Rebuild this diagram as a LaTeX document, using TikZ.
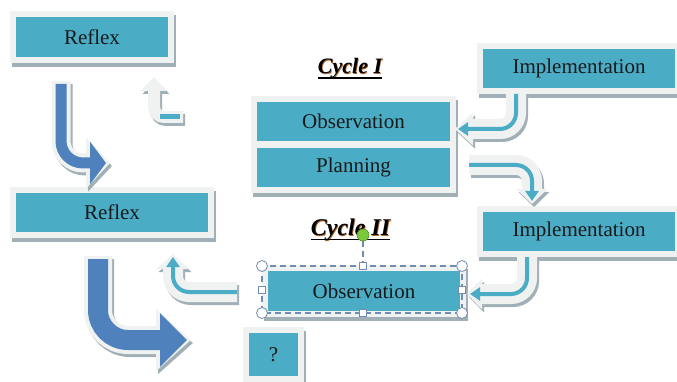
\documentclass[tikz,border=0pt]{standalone}
\usepackage{fontspec}
\setmainfont{Liberation Serif}
\usetikzlibrary{arrows.meta,shadows}
\definecolor{CYCteal}{RGB}{75,172,198}
\definecolor{CYCblue}{RGB}{79,129,189}
\definecolor{CYCframe}{RGB}{240,241,241}
\definecolor{CYCshade}{RGB}{160,176,182}
\definecolor{CYCsel}{RGB}{112,140,176}
\definecolor{CYCgreen}{RGB}{124,200,60}
\definecolor{CYCglow}{RGB}{176,104,40}

\begin{document}
\begin{tikzpicture}[x=1pt,y=-1pt,
	box/.style={fill=CYCteal, draw=CYCframe, line width=6pt, inner sep=0,
		drop shadow={shadow xshift=2pt, shadow yshift=-4pt, fill=CYCshade, draw=CYCshade, opacity=1},
		font=\fontsize{21}{24}\selectfont, text=black!90},
	cycletitle/.style={anchor=base, inner sep=0, font=\bfseries\itshape},
	bandshadow/.style={CYCshade, line width=#1, transform canvas={shift={(2pt,-3pt)}}},
	bandlight/.style={CYCframe, line width=#1},
	bandcore/.style={CYCteal, line width=#1},
	bigcore/.style={CYCblue, line width=#1},
	handle/.style={draw=CYCsel, fill=white, line width=.8pt},
	selline/.style={CYCsel, line width=1.1pt, dash pattern=on 6pt off 4pt}
	]
	\useasboundingbox (0,0) rectangle (677,382);
	\fill[white] (0,0) rectangle (677,382);

	% boxes
	\node[box, minimum width=158pt, minimum height=46pt] (refA) at (92,37) {Reflex};
	\node[box, minimum width=198pt, minimum height=45pt] (implA) at (579,68.5) {Implementation};
	\node[box, minimum width=199pt, minimum height=45pt] (obsA) at (353.5,121.5) {Observation};
	\node[box, minimum width=199pt, minimum height=45pt] (planA) at (353.5,167.5) {Planning};
	\node[box, minimum width=198pt, minimum height=45pt] (refB) at (112,212.5) {Reflex};
	\node[box, minimum width=198pt, minimum height=45pt] (implB) at (579,231.5) {Implementation};
	\node[box, minimum width=198pt, minimum height=46pt] (obsB) at (364,291) {Observation};
	\node[box, minimum width=55pt, minimum height=49pt] (quest) at (273.5,354.5) {?};

	% cycle titles
	\node[cycletitle, font=\fontsize{22}{26}\selectfont\bfseries\itshape, text=CYCglow] (cycAglow) at (350.7,74.7) {Cycle I};
	\node[cycletitle, font=\fontsize{22}{26}\selectfont\bfseries\itshape] (cycA) at (350,74) {Cycle I};
	\draw[line width=1.6pt] ([yshift=-4pt]cycA.base west) -- ([yshift=-4pt]cycA.base east);
	\node[cycletitle, font=\fontsize{24}{28}\selectfont\bfseries\itshape, text=CYCglow] (cycBglow) at (351.2,236.7) {Cycle II};
	\node[cycletitle, font=\fontsize{24}{28}\selectfont\bfseries\itshape] (cycB) at (350.5,236) {Cycle II};
	\draw[line width=1.6pt] ([yshift=-3.5pt]cycB.base west) -- ([yshift=-3.5pt]cycB.base east);

	% arrow ends
	\coordinate (a1s) at ([xshift=-31pt,yshift=-18pt]refA.south);
	\coordinate (a1e) at (106,163);
	\coordinate (a2s) at (183,117);
	\coordinate (a2e) at ([xshift=62pt,yshift=-14pt]refA.south);
	\coordinate (a3s) at ([xshift=-63pt]implA.south);
	\coordinate (a3e) at ([xshift=2pt,yshift=-7.5pt]obsA.east);
	\coordinate (a4s) at ([xshift=13pt,yshift=2.5pt]planA.east);
	\coordinate (a4e) at ([xshift=-47pt,yshift=5pt]implB.north);
	\coordinate (a5s) at ([xshift=-52pt]implB.south);
	\coordinate (a5e) at ([xshift=4pt,yshift=-3pt]obsB.east);
	\coordinate (a6s) at ([xshift=-25pt,yshift=-1pt]obsB.west);
	\coordinate (a6e) at ([xshift=61pt,yshift=-19pt]refB.south);
	\coordinate (a7s) at ([xshift=-14pt,yshift=-18pt]refB.south);
	\coordinate (a7e) at (187,340);

	% big blue arrows
	\draw[bandshadow=19pt, rounded corners=22pt, -{Triangle[length=24pt,width=50pt]}, shorten >=-4pt] (a1s) |- (a1e);
	\draw[bandlight=19pt, rounded corners=22pt, -{Triangle[length=24pt,width=50pt]}, shorten >=-4pt] (a1s) |- (a1e);
	\draw[bigcore=11pt, rounded corners=22pt, -{Triangle[length=16pt,width=42pt]}] ([yshift=-3pt]a1s) |- (a1e);

	\draw[bandshadow=28pt, rounded corners=30pt, -{Triangle[length=35pt,width=60pt]}, shorten >=-4pt] (a7s) |- (a7e);
	\draw[bandlight=28pt, rounded corners=30pt, -{Triangle[length=35pt,width=60pt]}, shorten >=-4pt] (a7s) |- (a7e);
	\draw[bigcore=20pt, rounded corners=30pt, -{Triangle[length=27pt,width=52pt]}] ([yshift=-3pt]a7s) |- (a7e);

	% small up arrow
	\draw[bandshadow=12pt, rounded corners=10pt, -{Triangle[length=14pt,width=26pt]}] (a2s) -| (a2e);
	\draw[bandlight=12pt, rounded corners=10pt, -{Triangle[length=14pt,width=26pt]}] (a2s) -| (a2e);
	\draw[bandcore=5pt] ([xshift=-3pt]a2s) -- ++(-20,0);

	% cycle arrows
	\draw[bandshadow=20pt, rounded corners=16pt, -{Triangle[length=18pt,width=32pt]}, shorten >=-3pt] (a3s) |- (a3e);
	\draw[bandlight=20pt, rounded corners=16pt, -{Triangle[length=18pt,width=32pt]}, shorten >=-3pt] (a3s) |- (a3e);
	\draw[bandcore=4pt, rounded corners=16pt, -{Triangle[length=10pt,width=13pt]}] (a3s) |- (a3e);

	\draw[bandshadow=20pt, rounded corners=16pt, -{Triangle[length=15pt,width=30pt]}, shorten >=-3pt] (a4s) -| (a4e);
	\draw[bandlight=20pt, rounded corners=16pt, -{Triangle[length=15pt,width=30pt]}, shorten >=-3pt] (a4s) -| (a4e);
	\draw[bandcore=4pt, rounded corners=16pt, -{Triangle[length=10pt,width=13pt]}] (a4s) -| (a4e);

	\draw[bandshadow=20pt, rounded corners=16pt, -{Triangle[length=15pt,width=30pt]}, shorten >=-3pt] (a5s) |- (a5e);
	\draw[bandlight=20pt, rounded corners=16pt, -{Triangle[length=15pt,width=30pt]}, shorten >=-3pt] (a5s) |- (a5e);
	\draw[bandcore=4pt, rounded corners=16pt, -{Triangle[length=10pt,width=13pt]}] (a5s) |- (a5e);

	\draw[bandshadow=20pt, rounded corners=16pt, -{Triangle[length=15pt,width=32pt]}, shorten >=-3pt] (a6s) -| (a6e);
	\draw[bandlight=20pt, rounded corners=16pt, -{Triangle[length=15pt,width=32pt]}, shorten >=-3pt] (a6s) -| (a6e);
	\draw[bandcore=4pt, rounded corners=16pt, -{Triangle[length=10pt,width=13pt]}] (a6s) -| (a6e);

	% selection handles
	\draw[selline] (262,266) rectangle (462,313);
	\draw[selline] (363,241) -- (363,266);
	\foreach \x/\y in {262/266,462/266,262/313,462/313}
		\draw[handle] (\x,\y) circle (5.5pt);
	\foreach \x/\y in {363/266,363/313,262/290,462/290}
		\draw[handle] (\x-3.5,\y-3.5) rectangle ++(7,7);
	\filldraw[fill=CYCgreen, draw=CYCgreen!70!black, line width=.6pt] (363,235) circle (6pt);
\end{tikzpicture}
\end{document}
